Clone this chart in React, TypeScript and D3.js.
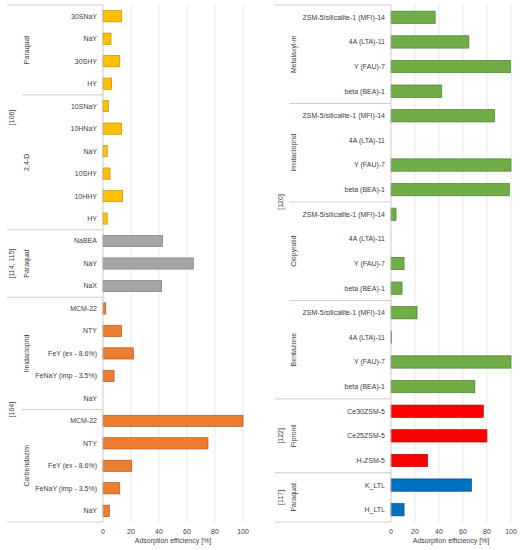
import React from 'react';
import * as d3 from 'd3';

// left panel
const leftLabels = ['30SNaY', 'NaY', '30SHY', 'HY', '10SNaY', '10HNaY', 'NaY', '10SHY', '10HHY', 'HY',
  'NaBEA', 'NaY', 'NaX',
  'MCM-22', 'NTY', 'FeY (ex - 8.6%)', 'FeNaY (imp - 3.5%)', 'NaY',
  'MCM-22', 'NTY', 'FeY (ex - 8.6%)', 'FeNaY (imp - 3.5%)', 'NaY'];
const leftValues = [13.3, 5.7, 12, 6.2, 3.8, 13.3, 3, 5, 14, 3,
  42.6, 64.5, 41.9,
  2, 13.3, 21.7, 7.9, 0,
  100, 75, 20.5, 12, 4.5];
const leftPesticides = ['Paraquat', '2,4-D', 'Paraquat', 'Imidacloprid', 'Carbendazim'];
const leftPesticideSizes = [4, 6, 3, 5, 5];
const leftRefs = ['[106]', '[114, 115]', '[104]'];
const leftRefSizes = [10, 3, 10];
const leftRefColors = [['#FFC000', '#C09000'], ['#A5A5A5', '#7F7F7F'], ['#ED7D31', '#B05A22']];

// right panel
const zeolites = ['ZSM-5/silicalite-1 (MFI)-14', '4A (LTA)-11', 'Y (FAU)-7', 'beta (BEA)-1'];
const rightLabels = [...zeolites, ...zeolites, ...zeolites, ...zeolites,
  'Ce30ZSM-5', 'Ce25ZSM-5', 'H-ZSM-5', 'K_LTL', 'H_LTL'];
const rightValues = [36.8, 64.9, 99.5, 42.3,
  86.3, 0, 100, 98.6,
  4.2, 0, 10.9, 9.2,
  21.7, 0.5, 100, 69.9,
  76.9, 79.9, 30.4,
  67, 10.9];
const rightPesticides = ['Metalaxyl-m', 'Imidacloprid', 'Clopyralid', 'Bentazone', 'Fipronil', 'Paraquat'];
const rightPesticideSizes = [4, 4, 4, 4, 3, 2];
const rightRefs = ['[120]', '[122]', '[117]'];
const rightRefSizes = [16, 3, 2];
const rightRefColors = [['#70AD47', '#4F7E30'], ['#FF0000', '#C00000'], ['#0070C0', '#00508C']];

const xTicks = [0, 20, 40, 60, 80, 100];
const FONT = '"Liberation Sans", Arial, sans-serif';
const TXT = '#404040';

interface PanelProps {
  labels: string[];
  values: number[];
  pesticides: string[];
  pesticideSizes: number[];
  refs: string[];
  refSizes: number[];
  refColors: string[][];
  outerX: number;
  innerX: number;
  refX: number;
  pestX: number;
  x0: number;
  x1: number;
}

const Panel: React.FC<PanelProps> = (p) => {
  const top = 5;
  const bottom = 522;
  const y = d3.scaleBand<number>()
    .domain(p.labels.map((_, i) => i))
    .range([top, bottom])
    .paddingInner(0.5)
    .paddingOuter(0.25);
  const step = y.step();
  const x = d3.scaleLinear().domain([0, 100]).range([p.x0, p.x1]);

  const rowColor: string[][] = [];
  p.refSizes.forEach((n, r) => { for (let k = 0; k < n; k++) rowColor.push(p.refColors[r]); });

  const rowY = (i: number) => top + i * step;

  // group boundaries
  const refStarts = d3.cumsum(p.refSizes);
  const pestStarts = d3.cumsum(p.pesticideSizes);
  const lines: { yy: number; outer: boolean }[] = [{ yy: rowY(0), outer: true }];
  pestStarts.forEach((s) => lines.push({ yy: rowY(s), outer: refStarts.includes(s) }));

  let acc = 0;
  const pestLabels = p.pesticides.map((name, i) => {
    const c = rowY(acc + p.pesticideSizes[i] / 2);
    acc += p.pesticideSizes[i];
    return { name, c };
  });
  acc = 0;
  const refLabels = p.refs.map((name, i) => {
    const c = rowY(acc + p.refSizes[i] / 2);
    acc += p.refSizes[i];
    return { name, c };
  });

  return (
    <g fontFamily={FONT} fontSize={7} fill={TXT}>
      {xTicks.slice(1).map((t) => (
        <line key={'g' + t} x1={x(t)} x2={x(t)} y1={top} y2={bottom} stroke="#e3e3e3" strokeWidth={0.8} />
      ))}
      {p.values.map((v, i) => (
        <rect key={'b' + i} x={x(0)} y={y(i)} width={Math.max(0, x(v) - x(0))} height={y.bandwidth()}
          fill={rowColor[i][0]} stroke={rowColor[i][1]} strokeWidth={0.7} />
      ))}
      <line x1={x(0)} x2={x(0)} y1={top} y2={bottom} stroke="#bfbfbf" strokeWidth={0.8} />
      {lines.map((l, i) => (
        <line key={'l' + i} x1={l.outer ? p.outerX : p.innerX} x2={x(0)} y1={l.yy} y2={l.yy} stroke="#bfbfbf" strokeWidth={0.8} />
      ))}
      {p.labels.map((lab, i) => (
        <text key={'c' + i} x={x(0) - 6} y={y(i)! + y.bandwidth() / 2} dy="0.35em" textAnchor="end">{lab}</text>
      ))}
      {pestLabels.map((d, i) => (
        <text key={'p' + i} transform={`translate(${p.pestX},${d.c}) rotate(-90)`} dy="0.35em" textAnchor="middle">{d.name}</text>
      ))}
      {refLabels.map((d, i) => (
        <text key={'r' + i} transform={`translate(${p.refX},${d.c}) rotate(-90)`} dy="0.35em" textAnchor="middle">{d.name}</text>
      ))}
      {xTicks.map((t) => (
        <text key={'t' + t} x={x(t)} y={533.5} textAnchor="middle">{t}</text>
      ))}
      <text x={(p.x0 + p.x1) / 2} y={543} textAnchor="middle">Adsorption efficiency [%]</text>
    </g>
  );
};

const App: React.FC = () => (
  <>
    <style>{'body{margin:0}'}</style>
    <svg width={520} height={550} style={{ display: 'block', background: '#fff' }}>
      <Panel labels={leftLabels} values={leftValues} pesticides={leftPesticides} pesticideSizes={leftPesticideSizes}
        refs={leftRefs} refSizes={leftRefSizes} refColors={leftRefColors}
        outerX={7} innerX={22} refX={12} pestX={27} x0={103} x1={243} />
      <Panel labels={rightLabels} values={rightValues} pesticides={rightPesticides} pesticideSizes={rightPesticideSizes}
        refs={rightRefs} refSizes={rightRefSizes} refColors={rightRefColors}
        outerX={275} innerX={289} refX={281} pestX={294} x0={391} x1={511} />
    </svg>
  </>
);

export default App;
